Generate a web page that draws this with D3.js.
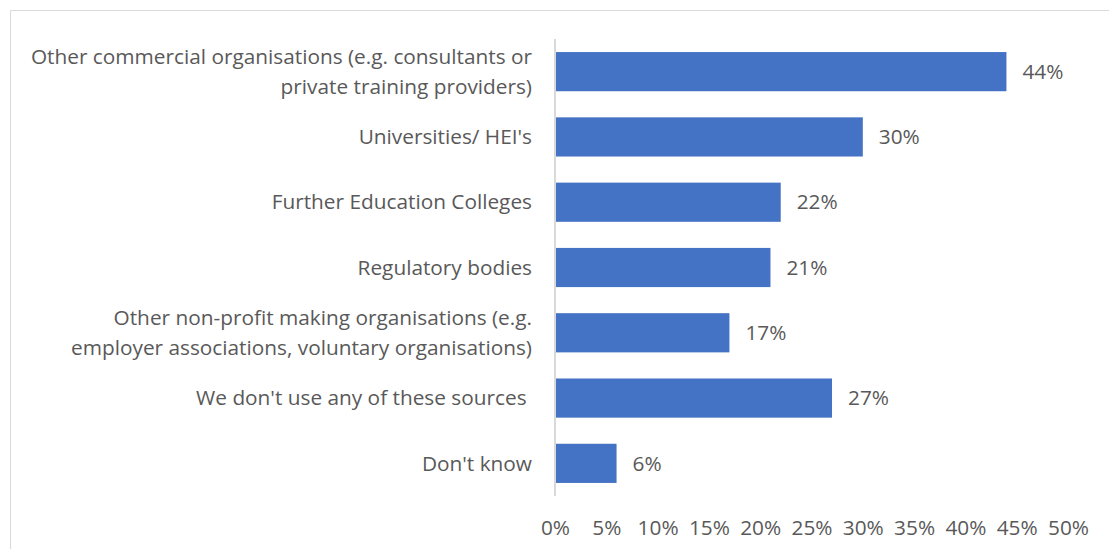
<!DOCTYPE html>
<html>
<head>
<meta charset="utf-8">
<script src="https://cdn.jsdelivr.net/npm/d3@7"></script>
<style>
  html, body { margin: 0; padding: 0; background: #fff; }
  svg { display: block; }
  text { font-family: "Open Sans", "Lato", sans-serif; fill: #595959; white-space: pre; }
</style>
</head>
<body>
<svg id="chart" width="1109" height="549"></svg>
<script>
// Sources of training used
const categories = [
  ["Other commercial organisations (e.g. consultants or", "private training providers)"],
  ["Universities/ HEI's"],
  ["Further Education Colleges"],
  ["Regulatory bodies"],
  ["Other non-profit making organisations (e.g.", "employer associations, voluntary organisations)"],
  ["We don't use any of these sources "],
  ["Don't know"]
];
const values = [44, 30, 22, 21, 17, 27, 6];
const tickValues = [0, 5, 10, 15, 20, 25, 30, 35, 40, 45, 50];

const svg = d3.select("#chart");
const W = 1109, H = 549;

// outer frame (top and left edges visible)
svg.append("path")
  .attr("d", `M10.5,${H} V10.5 H${W}`)
  .attr("fill", "none")
  .attr("stroke", "#d9d9d9")
  .attr("stroke-width", 1);

const x = d3.scaleLinear().domain([0, 50]).range([555, 1068]);
const y = d3.scaleBand()
  .domain(d3.range(values.length))
  .range([39, 496])
  .paddingInner(0.4)
  .paddingOuter(0.2);

// bars
svg.append("g").selectAll("rect")
  .data(values)
  .join("rect")
  .attr("x", x(0))
  .attr("y", (d, i) => y(i))
  .attr("width", d => x(d) - x(0))
  .attr("height", y.bandwidth())
  .attr("fill", "#4472c4");

// category axis line
svg.append("line")
  .attr("x1", x(0)).attr("x2", x(0))
  .attr("y1", 39).attr("y2", 496)
  .attr("stroke", "#d9d9d9")
  .attr("stroke-width", 2);

// category labels
const fs = 20.8;
const lineH = 30;
svg.append("g").selectAll("text")
  .data(categories)
  .join("text")
  .attr("text-anchor", "end")
  .attr("font-size", fs)
  .each(function (lines, i) {
    const cy = y(i) + y.bandwidth() / 2;
    const t = d3.select(this);
    lines.forEach((ln, k) => {
      t.append("tspan")
        .attr("x", 532)
        .attr("y", cy + (k - (lines.length - 1) / 2) * lineH)
        .attr("dy", "0.35em")
        .text(ln);
    });
  });

// value labels
svg.append("g").selectAll("text")
  .data(values)
  .join("text")
  .attr("x", d => x(d) + 16)
  .attr("y", (d, i) => y(i) + y.bandwidth() / 2)
  .attr("dy", "0.35em")
  .attr("font-size", fs)
  .text(d => d + "%");

// value axis ticks (labels only)
const xAxis = d3.axisBottom(x)
  .tickValues(tickValues)
  .tickFormat(d => d + "%")
  .tickSize(0)
  .tickPadding(0);
const gx = svg.append("g")
  .attr("transform", "translate(0,520)")
  .call(xAxis);
gx.select(".domain").remove();
gx.selectAll("text")
  .attr("font-size", fs)
  .attr("font-family", "'Open Sans', Lato, sans-serif")
  .attr("fill", "#595959");
</script>
</body>
</html>
